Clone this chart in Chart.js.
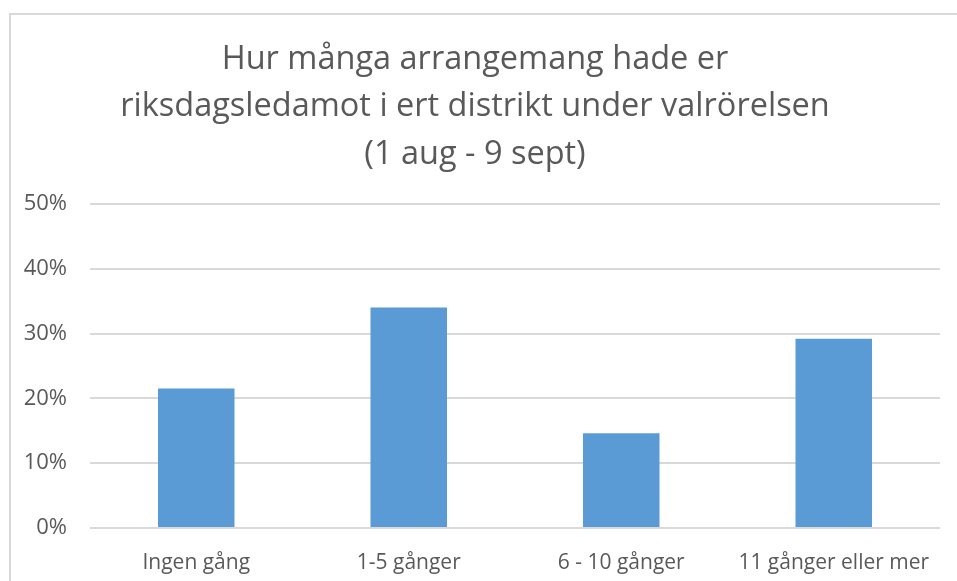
<!DOCTYPE html>
<html>
<head>
<meta charset="utf-8">
<script src="https://cdn.jsdelivr.net/npm/chart.js@4/dist/chart.umd.min.js"></script>
<style>
    html, body { margin: 0; padding: 0; background: #fff; overflow: hidden; }
    #frame { position: absolute; left: 9px; top: 13px; width: 1000px; height: 1000px; border: 2px solid #d9d9d9; box-sizing: border-box; }
    #wrap { position: absolute; left: 0; top: 0; width: 957px; height: 581px; }
</style>
</head>
<body>
<div id="frame"></div>
<div id="wrap"><canvas id="chartRef"></canvas></div>
<script>
const categories = ["Ingen gång", "1-5 gånger", "6 - 10 gånger", "11 gånger eller mer"];
const shares = [21.5, 34.0, 14.6, 29.2];
const yTicks = [0, 10, 20, 30, 40, 50];
const titleLines = [
    "Hur många arrangemang hade er",
    "riksdagsledamot i ert distrikt under valrörelsen",
    "(1 aug - 9 sept)"
];

const FONT = "'Open Sans', sans-serif";
const TEXT = "#595959";

const chart = new Chart(document.getElementById("chartRef"), {
    type: "bar",
    data: {
        labels: categories,
        datasets: [
            {
                label: "Andel",
                data: shares,
                backgroundColor: "#5b9bd5",
                barPercentage: 0.72,
                categoryPercentage: 0.5
            }
        ]
    },
    options: {
        responsive: true,
        maintainAspectRatio: false,
        animation: false,
        layout: {
            padding: { left: 10, right: 17, top: 0, bottom: 0 }
        },
        plugins: {
            legend: { display: false },
            tooltip: { enabled: false },
            title: {
                display: true,
                text: titleLines,
                color: TEXT,
                font: { family: FONT, size: 32.5, weight: "normal", lineHeight: 1.46 },
                padding: { top: 36, bottom: 25.5 }
            }
        },
        scales: {
            x: {
                grid: { display: false },
                border: { display: false },
                ticks: {
                    color: TEXT,
                    font: { family: FONT, size: 21 },
                    padding: 14,
                    maxRotation: 0
                },
                afterFit(scale) {
                    scale.height = 53;
                }
            },
            y: {
                min: 0,
                max: 50,
                afterBuildTicks(scale) {
                    scale.ticks = yTicks.map(v => ({ value: v }));
                },
                grid: { color: "#d9d9d9", lineWidth: 2, drawTicks: false },
                border: { display: false },
                ticks: {
                    color: TEXT,
                    font: { family: FONT, size: 22 },
                    padding: 23,
                    callback: v => v + "%"
                },
                afterFit(scale) {
                    scale.width = 80;
                }
            }
        }
    }
});
</script>
</body>
</html>
